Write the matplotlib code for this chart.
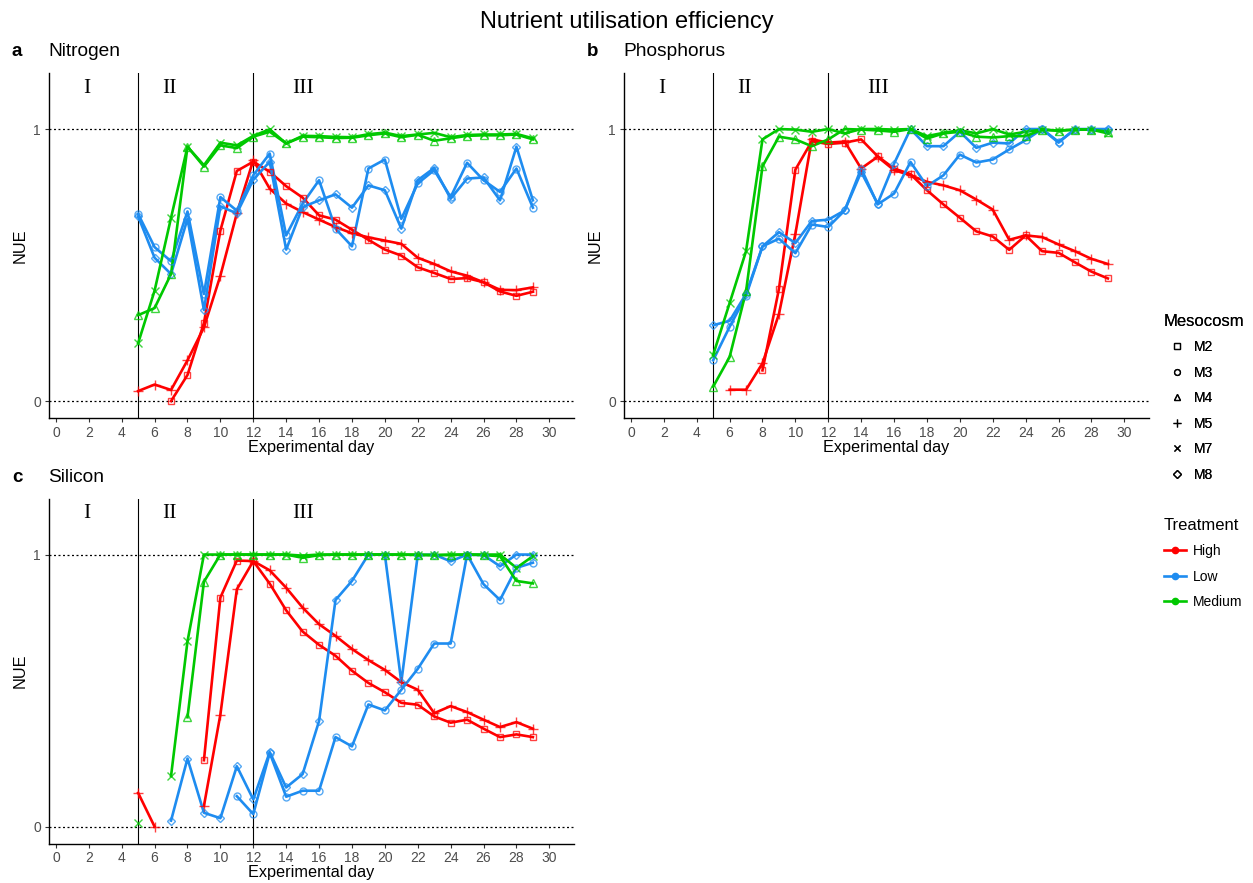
import numpy as np
import matplotlib
matplotlib.use("Agg")
import matplotlib.pyplot as plt
from matplotlib.lines import Line2D

nan = np.nan

# Experimental days sampled (5..29)
days = list(range(5, 30))

# ---------------- Nitrogen ----------------
N_M2 = [nan, nan, 0.0, 0.096, 0.287, 0.627, 0.846, 0.880, 0.843, 0.790, 0.748, 0.683, 0.667,
        0.630, 0.593, 0.557, 0.535, 0.492, 0.471, 0.449, 0.452, 0.437, 0.403, 0.387, 0.402]
N_M5 = [0.037, 0.061, 0.041, 0.150, 0.271, 0.461, 0.690, 0.886, 0.781, 0.726, 0.695, 0.667, 0.640,
        0.617, 0.602, 0.590, 0.578, 0.527, 0.504, 0.477, 0.461, 0.437, 0.409, 0.408, 0.418]
N_M3 = [0.688, 0.566, 0.514, 0.697, 0.394, 0.750, 0.700, 0.830, 0.910, 0.609, 0.726, 0.812, 0.634,
        0.569, 0.855, 0.888, 0.670, 0.800, 0.849, 0.750, 0.876, 0.812, 0.769, 0.855, 0.711]
N_M8 = [0.679, 0.527, 0.467, 0.670, 0.335, 0.716, 0.690, 0.814, 0.880, 0.557, 0.713, 0.738, 0.760,
        0.711, 0.793, 0.775, 0.634, 0.812, 0.857, 0.744, 0.818, 0.822, 0.738, 0.935, 0.738]
N_M4 = [0.316, 0.342, 0.467, 0.935, 0.862, 0.940, 0.930, 0.972, 0.990, 0.947, 0.972, 0.970, 0.967,
        0.968, 0.977, 0.984, 0.970, 0.979, 0.957, 0.966, 0.975, 0.977, 0.977, 0.980, 0.962]
N_M7 = [0.213, 0.406, 0.674, 0.935, 0.867, 0.950, 0.940, 0.975, 0.999, 0.947, 0.975, 0.974, 0.971,
        0.970, 0.981, 0.987, 0.974, 0.980, 0.986, 0.970, 0.978, 0.980, 0.980, 0.982, 0.966]

# ---------------- Phosphorus ----------------
P_M2 = [nan, nan, nan, 0.113, 0.412, 0.851, 0.955, 0.945, 0.950, 0.962, 0.900, 0.855, 0.834,
        0.775, 0.723, 0.674, 0.624, 0.605, 0.556, 0.609, 0.551, 0.545, 0.510, 0.476, 0.451]
P_M5 = [nan, 0.042, 0.042, 0.139, 0.320, 0.615, 0.962, 0.950, 0.954, 0.855, 0.898, 0.849, 0.830,
        0.806, 0.793, 0.775, 0.741, 0.704, 0.593, 0.609, 0.603, 0.576, 0.551, 0.523, 0.504]
P_M3 = [0.150, 0.273, 0.387, 0.569, 0.597, 0.544, 0.649, 0.640, 0.701, 0.855, 0.723, 0.763, 0.879,
        0.790, 0.830, 0.906, 0.877, 0.888, 0.925, 0.959, 1.000, 0.953, 0.998, 0.998, 0.998]
P_M8 = [0.279, 0.295, 0.394, 0.569, 0.621, 0.581, 0.662, 0.667, 0.701, 0.842, 0.726, 0.873, 1.000,
        0.937, 0.937, 0.990, 0.931, 0.950, 0.947, 1.000, 1.000, 0.950, 1.000, 1.000, 1.000]
P_M4 = [0.053, 0.162, 0.403, 0.863, 0.972, 0.962, 0.937, 0.962, 1.000, 0.998, 0.995, 0.990, 1.000,
        0.965, 0.984, 0.990, 0.972, 0.969, 0.974, 0.974, 0.998, 0.994, 0.998, 0.998, 0.990]
P_M7 = [0.170, 0.360, 0.551, 0.962, 1.000, 0.998, 0.990, 1.000, 0.984, 1.000, 1.000, 0.998, 1.000,
        0.974, 0.986, 0.996, 0.984, 1.000, 0.980, 0.990, 0.998, 0.994, 0.998, 0.998, 0.984]

# ---------------- Silicon ----------------
S_M2 = [nan, nan, nan, nan, 0.244, 0.842, 0.978, 0.976, 0.893, 0.795, 0.717, 0.668, 0.628,
        0.573, 0.528, 0.494, 0.455, 0.448, 0.405, 0.382, 0.393, 0.360, 0.329, 0.339, 0.329]
S_M5 = [0.124, 0.0, nan, nan, 0.076, 0.412, 0.872, 0.976, 0.942, 0.878, 0.805, 0.744, 0.701,
        0.653, 0.612, 0.576, 0.531, 0.503, 0.417, 0.443, 0.421, 0.393, 0.366, 0.384, 0.360]
S_M3 = [nan, nan, nan, nan, nan, nan, 0.112, 0.046, 0.271, 0.110, 0.132, 0.132, 0.329,
        0.295, 0.449, 0.427, 0.503, 0.580, 0.673, 0.673, 1.000, 0.891, 0.833, 0.951, 0.970]
S_M8 = [nan, nan, 0.022, 0.250, 0.051, 0.031, 0.222, 0.100, 0.274, 0.144, 0.193, 0.388, 0.833,
        0.903, 1.000, 1.000, 0.531, 0.998, 1.000, 0.975, 1.000, 0.998, 0.957, 1.000, 1.000]
S_M4 = [nan, nan, nan, 0.402, 0.900, 1.000, 1.000, 1.000, 1.000, 1.000, 0.988, 0.998, 1.000,
        1.000, 1.000, 1.000, 1.000, 0.998, 0.998, 0.998, 1.000, 0.998, 0.994, 0.903, 0.894]
S_M7 = [0.012, nan, 0.186, 0.681, 1.000, 1.000, 1.000, 1.000, 1.000, 1.000, 0.996, 1.000, 1.000,
        1.000, 1.000, 1.000, 1.000, 1.000, 0.998, 1.000, 1.000, 1.000, 1.000, 0.951, 0.994]

mesocosms = ["M2", "M3", "M4", "M5", "M7", "M8"]
treatment_of = {"M2": "High", "M5": "High", "M3": "Low", "M8": "Low", "M4": "Medium", "M7": "Medium"}
treatments = ["High", "Low", "Medium"]
phase_labels = ["I", "II", "III"]
phase_pos = [1.9, 6.9, 15.0]
phase_bounds = [5, 12]
x_ticks = list(range(0, 31, 2))
y_ticks = [0, 1]

colors = {"High": "#FF0000", "Low": "#1E8CF0", "Medium": "#00C800"}
markers = {"M2": ("s", 4.6), "M3": ("o", 5.0), "M4": ("^", 5.6),
           "M5": ("+", 7.5), "M7": ("x", 5.5), "M8": ("D", 4.4)}

panels = [
    ("a", "Nitrogen", {"M2": N_M2, "M3": N_M3, "M4": N_M4, "M5": N_M5, "M7": N_M7, "M8": N_M8}),
    ("b", "Phosphorus", {"M2": P_M2, "M3": P_M3, "M4": P_M4, "M5": P_M5, "M7": P_M7, "M8": P_M8}),
    ("c", "Silicon", {"M2": S_M2, "M3": S_M3, "M4": S_M4, "M5": S_M5, "M7": S_M7, "M8": S_M8}),
]

W, H = 1253, 883
plt.rcParams["font.family"] = ["Liberation Sans", "DejaVu Sans"]
fig = plt.figure(figsize=(W / 100, H / 100), dpi=100)
fig.patch.set_facecolor("white")

# panel boxes in pixels: left, top, width, height
boxes = [(49, 73, 525, 345), (624, 73, 525, 345), (49, 498.5, 525, 345)]

draw_order = ["M2", "M5", "M3", "M8", "M4", "M7"]

for (tag, name, series), (lx, ty, bw, bh) in zip(panels, boxes):
    ax = fig.add_axes([lx / W, 1 - (ty + bh) / H, bw / W, bh / H])
    ax.set_xlim(-0.42, 31.5)
    ax.set_ylim(-0.062, 1.206)
    for yv in y_ticks:
        ax.axhline(yv, color="black", lw=0.9, ls=(0, (1.6, 2.0)), zorder=1)
    for xv in phase_bounds:
        ax.axvline(xv, color="black", lw=0.8, zorder=1)
    for lab, xp in zip(phase_labels, phase_pos):
        ax.text(xp, 1.15, lab, family=["Liberation Serif", "DejaVu Serif"], fontsize=15.5,
                ha="center", va="center")
    for m in draw_order:
        c = colors[treatment_of[m]]
        vals = series[m]
        ax.plot(days, vals, color=c, lw=1.9, solid_joinstyle="round", zorder=2)
        mk, ms = markers[m]
        ax.plot(days, vals, ls="none", marker=mk, ms=ms, mfc="none", mec=c, mew=1.0,
                alpha=0.75, zorder=3)
    ax.set_xticks(x_ticks)
    ax.set_yticks(y_ticks)
    ax.set_yticklabels(["0", "1"])
    ax.tick_params(axis="both", length=3.2, width=0.8, color="#333333",
                   labelcolor="#4D4D4D", labelsize=10, pad=2.5)
    for s in ["top", "right"]:
        ax.spines[s].set_visible(False)
    for s in ["left", "bottom"]:
        ax.spines[s].set_linewidth(1.0)
        ax.spines[s].set_color("black")
    ax.set_xlabel("Experimental day", fontsize=11.7, labelpad=0)
    ax.set_ylabel("NUE", fontsize=11.7, labelpad=4)
    # panel tag and nutrient name
    fig.text((lx - 37) / W, 1 - (ty - 21) / H, tag, fontsize=13.5, fontweight="bold",
             ha="left", va="center")
    fig.text((lx - 1) / W, 1 - (ty - 21) / H, name, fontsize=13.8, ha="left", va="center")

fig.text(627 / W, 1 - 22 / H, "Nutrient utilisation efficiency", fontsize=17,
         ha="center", va="center")

# legends
meso_handles = [Line2D([], [], ls="none", marker=markers[m][0], ms=markers[m][1] * 0.85,
                       mfc="none", mec="black", mew=0.9) for m in mesocosms]
leg1 = fig.legend(meso_handles, mesocosms, title="Mesocosm", loc="upper left",
                  bbox_to_anchor=(1151.5 / W, 1 - 301 / H), frameon=False, fontsize=10,
                  title_fontsize=12, labelspacing=0.83, handlelength=1.87,
                  handletextpad=0.3, alignment="left")
fig.add_artist(leg1)
treat_handles = [Line2D([], [], color=colors[t], lw=1.9, marker="o", ms=4.5) for t in treatments]
fig.legend(treat_handles, treatments, title="Treatment", loc="upper left",
           bbox_to_anchor=(1151.5 / W, 1 - 505 / H), frameon=False, fontsize=10,
           title_fontsize=12, labelspacing=0.83, handlelength=1.6,
           handletextpad=0.5, alignment="left")

fig.savefig("out.png", dpi=100)
